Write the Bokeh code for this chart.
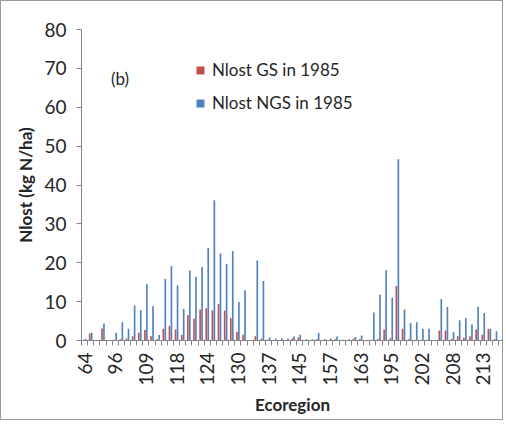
import numpy as np
from bokeh.plotting import figure
from bokeh.models import ColumnDataSource, FixedTicker, Range1d, Legend, LegendItem, Label
from bokeh.transform import dodge
from bokeh.embed import file_html
from bokeh.resources import INLINE

# Ecoregion tick labels (every 5th category is labelled)
tick_labels = ["64", "96", "109", "118", "124", "130", "137", "145",
               "157", "163", "195", "202", "208", "213"]
label_step = 5

# Nlost GS in 1985 (kg N/ha)
nlost_gs = [0.2, 1.8, 0.0, 3.1, 0.0, 0.2, 0.3, 0.5, 1.1, 2.0,
            2.7, 1.1, 0.3, 3.0, 3.8, 2.8, 1.4, 6.5, 5.6, 8.0,
            8.3, 7.7, 9.4, 7.7, 5.7, 2.2, 1.5, 0.0, 1.1, 0.5,
            0.2, 0.1, 0.1, 0.1, 0.5, 0.8, 0.1, 0.1, 0.3, 0.1,
            0.1, 0.3, 0.1, 0.1, 0.5, 0.3, 0.0, 0.2, 0.4, 2.8,
            0.6, 14.0, 3.0, 0.3, 0.2, 0.2, 0.2, 0.0, 2.6, 2.6,
            0.4, 1.1, 0.7, 1.1, 2.8, 1.5, 3.0, 0.3]
# Nlost NGS in 1985 (kg N/ha)
nlost_ngs = [0.4, 2.0, 0.0, 4.4, 0.0, 2.0, 4.7, 3.0, 9.0, 7.8,
             14.5, 8.8, 1.4, 15.8, 19.1, 14.2, 8.1, 18.0, 16.4, 18.9,
             23.8, 36.1, 22.4, 19.7, 23.0, 9.9, 12.9, 0.0, 20.6, 15.3,
             0.8, 0.5, 0.6, 0.5, 1.0, 1.5, 0.3, 0.3, 1.9, 0.4,
             0.5, 1.0, 0.2, 0.3, 0.9, 1.3, 0.2, 7.2, 11.8, 18.1,
             11.0, 46.6, 8.0, 4.5, 4.7, 3.0, 3.0, 0.0, 10.7, 8.6,
             2.2, 5.2, 5.8, 4.1, 8.7, 7.1, 3.0, 2.4]

RED = "#C0504D"
BLUE = "#4F81BD"
FONT = "Lato"
TXT = "#262626"

idx = list(range(len(nlost_gs)))
src = ColumnDataSource(dict(x=idx, gs=nlost_gs, ngs=nlost_ngs))

p = figure(width=503, height=420, output_backend="svg", toolbar_location=None,
           x_range=Range1d(-0.5, 68.3), y_range=Range1d(0, 80),
           min_border_left=80, min_border_right=1, min_border_top=28,
           min_border_bottom=81)
p.outline_line_color = None
p.xgrid.grid_line_color = None
p.ygrid.grid_line_color = None

r_gs = p.vbar(x=dodge("x", -0.16), top="gs", width=0.27, source=src,
              fill_color=RED, line_color=None)
r_ngs = p.vbar(x=dodge("x", 0.16), top="ngs", width=0.27, source=src,
               fill_color=BLUE, line_color=None)

# x axis
label_pos = [i * label_step for i in range(len(tick_labels))]
p.xaxis.ticker = FixedTicker(ticks=label_pos,
                             minor_ticks=[i - 0.5 for i in range(len(idx) + 1)])
p.xaxis.major_label_overrides = {pos: lab for pos, lab in zip(label_pos, tick_labels)}
p.xaxis.major_label_orientation = np.pi / 2
p.xaxis.major_tick_line_color = None
p.xaxis.minor_tick_line_color = "#868686"
p.xaxis.minor_tick_in = 0
p.xaxis.minor_tick_out = 5
p.xaxis.axis_line_color = "#868686"
p.xaxis.major_label_text_font = FONT
p.xaxis.major_label_text_font_size = "19px"
p.xaxis.major_label_text_color = TXT
p.xaxis.major_label_standoff = 6
p.xaxis.axis_label = "Ecoregion"
p.xaxis.axis_label_text_font = FONT
p.xaxis.axis_label_text_font_size = "17px"
p.xaxis.axis_label_text_font_style = "bold"
p.xaxis.axis_label_text_color = TXT
p.xaxis.axis_label_standoff = 5

# y axis
p.yaxis.ticker = FixedTicker(ticks=list(range(0, 81, 10)))
p.yaxis.minor_tick_line_color = None
p.yaxis.major_tick_in = 0
p.yaxis.major_tick_out = 5
p.yaxis.major_tick_line_color = "#868686"
p.yaxis.axis_line_color = "#868686"
p.yaxis.major_label_text_font = FONT
p.yaxis.major_label_text_font_size = "19px"
p.yaxis.major_label_text_color = TXT
p.yaxis.major_label_standoff = 10
p.yaxis.axis_label = "Nlost (kg N/ha)"
p.yaxis.axis_label_text_font = FONT
p.yaxis.axis_label_text_font_size = "17px"
p.yaxis.axis_label_text_font_style = "bold"
p.yaxis.axis_label_text_color = TXT
p.yaxis.axis_label_standoff = 5

legend = Legend(items=[LegendItem(label="Nlost GS in 1985", renderers=[r_gs]),
                       LegendItem(label="Nlost NGS in 1985", renderers=[r_ngs])],
                location=(114, 227), orientation="vertical",
                glyph_width=10, glyph_height=10, label_standoff=7, spacing=12,
                padding=0, margin=0, border_line_color=None,
                background_fill_alpha=0,
                label_text_font=FONT, label_text_font_size="17px",
                label_text_color=TXT)
p.add_layout(legend)

p.add_layout(Label(x=4.3, y=67.5, text="(b)", text_font=FONT,
                   text_font_size="17px", text_color=TXT,
                   text_baseline="middle"))

p.styles = {"border": "1px solid #9a9a9a"}

open("out.html", "w").write(file_html(p, INLINE))
